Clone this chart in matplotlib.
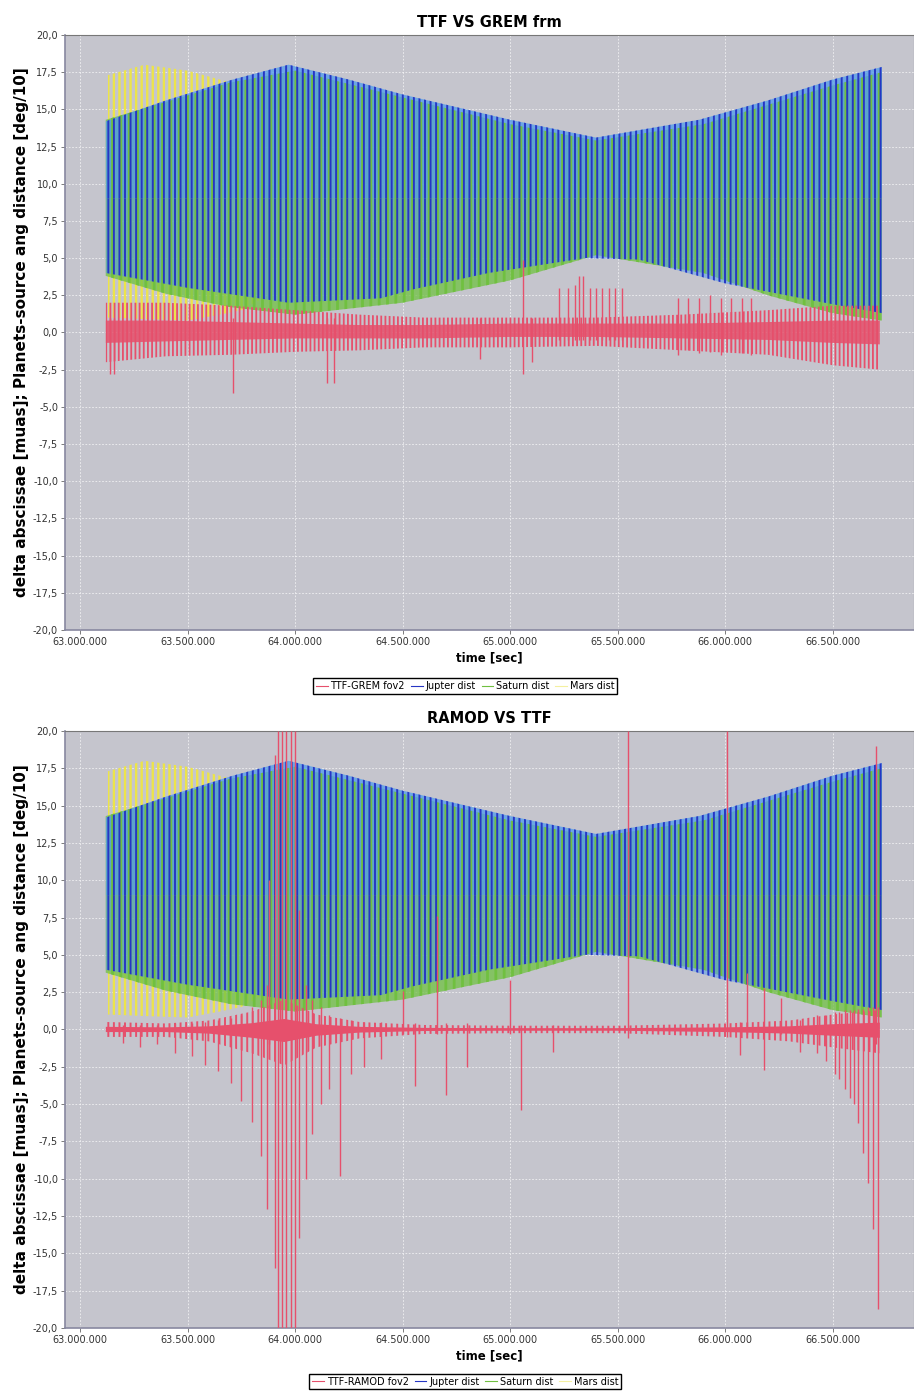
import matplotlib
matplotlib.use('Agg')
import matplotlib.pyplot as plt
from matplotlib.lines import Line2D
from matplotlib.ticker import FuncFormatter, MultipleLocator

# ---- data (times in million seconds) ----
jup_t = [63.12, 63.40, 63.71, 63.97, 64.25, 64.50, 65.00, 65.40, 65.88, 66.20, 66.50, 66.73]
jup_hi = [14.2, 15.6, 17.0, 18.0, 17.0, 16.0, 14.3, 13.1, 14.3, 15.6, 17.0, 17.85]
jup_lo_t = [63.12, 63.50, 63.97, 64.40, 64.55, 64.90, 65.35, 65.60, 66.00, 66.50, 66.73]
jup_lo = [4.0, 3.0, 2.0, 2.3, 2.9, 4.0, 5.0, 4.9, 3.3, 1.9, 1.3]

sat_t = [63.12, 63.40, 63.70, 64.00, 64.50, 65.00, 65.40, 65.90, 66.20, 66.50, 66.73]
sat_hi = [14.3, 15.5, 16.8, 17.6, 15.8, 14.0, 12.9, 14.0, 15.3, 16.6, 17.5]
sat_lo_t = [63.12, 63.50, 63.80, 64.10, 64.40, 64.70, 65.30, 65.80, 66.20, 66.50, 66.73]
sat_lo = [3.8, 2.6, 1.7, 1.2, 2.0, 3.5, 5.2, 4.0, 2.5, 1.3, 0.8]

mars_t = [63.13, 63.30, 63.50, 63.65, 63.75, 64.00, 64.50, 65.00, 65.50, 66.00, 66.50, 66.73]
mars_hi = [17.3, 18.0, 17.6, 17.0, 16.6, 13.0, 9.0, 8.0, 8.0, 9.0, 11.0, 12.0]
mars_lo = [1.0, 0.9, 0.8, 1.2, 1.5, 3.5, 5.0, 6.0, 6.0, 5.5, 4.5, 4.0]

# TTF-GREM fov2 (top panel)
grem_t = [63.12, 63.40, 63.70, 64.00, 64.30, 64.60, 65.00, 65.40, 65.80, 66.20, 66.50, 66.72]
grem_hi = [2.0, 2.0, 1.8, 1.5, 1.2, 1.0, 1.0, 1.0, 1.2, 1.5, 1.8, 1.8]
grem_lo = [-2.0, -1.6, -1.5, -1.3, -1.2, -1.0, -1.0, -0.9, -1.2, -1.5, -2.2, -2.5]
grem_core_hi = [0.8, 0.8, 0.7, 0.6, 0.5, 0.5, 0.6, 0.6, 0.6, 0.7, 0.8, 0.8]
grem_core_lo = [-0.7, -0.6, -0.5, -0.4, -0.4, -0.4, -0.3, -0.3, -0.4, -0.5, -0.7, -0.8]
grem_spk_t = [63.14, 63.16, 63.71, 64.15, 64.18, 64.86, 65.06, 65.10, 65.23, 65.27, 65.30,
              65.32, 65.34, 65.37, 65.40, 65.43, 65.46, 65.49, 65.52, 65.78, 65.83, 65.88,
              65.93, 65.98, 66.03, 66.08, 66.12]
grem_spk_lo = [-2.8, -2.8, -4.1, -3.4, -3.4, -1.8, -2.8, -2.0, -0.5, -0.5, -0.5,
               -0.5, -0.5, -0.5, -0.5, -0.5, -0.5, -0.5, -0.5, -1.5, -1.2, -1.4,
               -1.3, -1.5, -1.2, -1.4, -1.5]
grem_spk_hi = [1.0, 1.0, 1.0, 1.0, 1.0, 1.0, 4.9, 1.0, 3.0, 3.0, 3.2,
               3.8, 3.8, 3.0, 3.0, 3.0, 3.0, 3.0, 3.0, 2.3, 2.3, 2.3,
               2.5, 2.3, 2.3, 2.3, 2.3]

# TTF-RAMOD fov2 (bottom panel)
ramod_t = [63.12, 63.40, 63.60, 63.80, 63.95, 64.10, 64.30, 64.60, 65.00, 65.50, 66.00, 66.30, 66.50, 66.72]
ramod_hi = [0.5, 0.4, 0.6, 1.2, 2.0, 1.0, 0.5, 0.3, 0.25, 0.25, 0.4, 0.6, 1.0, 1.3]
ramod_lo = [-0.5, -0.5, -0.8, -1.6, -2.4, -1.2, -0.6, -0.3, -0.25, -0.25, -0.5, -0.8, -1.2, -1.6]
ramod_spk_t = [63.20, 63.28, 63.36, 63.44, 63.52, 63.58, 63.64, 63.70, 63.75, 63.80, 63.84,
               63.87, 63.88, 63.905, 63.92, 63.94, 63.96, 63.98, 64.00, 64.02, 64.05, 64.08,
               64.12, 64.16, 64.21, 64.26, 64.32, 64.40, 64.50, 64.56, 64.66, 64.70, 64.80,
               65.00, 65.05, 65.20, 65.549, 66.009, 66.07, 66.10, 66.18, 66.26, 66.35, 66.43,
               66.47, 66.51, 66.53, 66.56, 66.58, 66.60, 66.62, 66.64, 66.665, 66.69, 66.70, 66.71]
ramod_spk_lo = [-0.9, -1.2, -1.0, -1.6, -1.8, -2.4, -2.8, -3.6, -4.8, -6.2, -8.5,
                -12.0, -1.0, -16.0, -20.0, -20.0, -20.0, -20.0, -20.0, -14.0, -10.0, -7.0,
                -5.0, -4.0, -9.8, -3.0, -2.5, -2.0, -0.3, -3.8, -0.3, -4.4, -2.5,
                -0.3, -5.4, -1.5, -0.6, -0.5, -1.7, -0.3, -2.7, -0.3, -1.5, -1.6,
                -2.1, -3.0, -3.3, -4.0, -4.6, -5.0, -6.3, -8.3, -10.3, -13.4, -1.0, -18.7]
ramod_spk_hi = [0.3, 0.3, 0.3, 0.4, 0.4, 0.5, 0.6, 0.8, 1.0, 1.5, 2.0,
                3.0, 10.0, 18.4, 20.0, 20.0, 20.0, 20.0, 20.0, 8.0, 3.0, 2.0,
                1.5, 1.0, 0.8, 0.6, 0.5, 0.5, 2.6, 0.4, 7.6, 0.4, 0.4,
                3.3, 0.3, 0.3, 20.0, 20.0, 0.5, 3.8, 2.8, 2.1, 0.6, 1.0,
                1.0, 1.2, 1.2, 1.3, 1.3, 1.3, 1.4, 1.4, 1.5, 1.5, 19.0, 1.5]

x_ticks = [63.0, 63.5, 64.0, 64.5, 65.0, 65.5, 66.0, 66.5]

RED = '#e6506c'
BLUE = '#2636c4'
GREEN = '#70c040'
YELLOW = '#ece44a'
BG = '#c5c5cd'

plt.rcParams['font.family'] = 'DejaVu Sans'


def band(ax, t, lo, hi, color, hatch, lw, z, face='none'):
    ts = [v * 1e6 for v in t]
    with plt.rc_context({'hatch.linewidth': lw}):
        ax.fill_between(ts, lo, hi, facecolor=face, edgecolor=color, hatch=hatch,
                        linewidth=0, zorder=z)


def spikes(ax, t, lo, hi, color, lw=1.0):
    ax.vlines([v * 1e6 for v in t], lo, hi, color=color, linewidth=lw, zorder=6)


def thousands(v, pos):
    return '{:,.0f}'.format(v).replace(',', '.')


def comma(v, pos):
    return '{:.1f}'.format(v).replace('.', ',')


def planets(ax):
    band(ax, mars_t, mars_lo, mars_hi, YELLOW, '|||', 1.7, 2)
    band(ax, sat_t, sat_lo, sat_hi, GREEN, '', 0, 2.5, face=(0.44, 0.76, 0.26, 0.75))
    band(ax, jup_t, [9.0] * len(jup_t), jup_hi, 'none', '', 0, 3, face=(0.31, 0.61, 0.93, 0.75))
    band(ax, jup_lo_t, jup_lo, [9.0] * len(jup_lo_t), 'none', '', 0, 3, face=(0.31, 0.61, 0.93, 0.5))
    band(ax, sat_t, sat_lo, sat_hi, GREEN, '||', 2.0, 3.5)
    band(ax, jup_t, [9.0] * len(jup_t), jup_hi, BLUE, '|||', 1.4, 4)
    band(ax, jup_lo_t, jup_lo, [9.0] * len(jup_lo_t), BLUE, '|||', 1.4, 4)


def style(ax, title):
    ax.set_facecolor(BG)
    ax.set_xlim(62.930e6, 66.879e6)
    ax.set_ylim(-20, 20)
    ax.set_xticks([v * 1e6 for v in x_ticks])
    ax.xaxis.set_major_formatter(FuncFormatter(thousands))
    ax.yaxis.set_major_locator(MultipleLocator(2.5))
    ax.yaxis.set_major_formatter(FuncFormatter(comma))
    ax.grid(True, color='white', linestyle=(0, (2, 2)), linewidth=0.6, alpha=0.75, zorder=1)
    ax.set_axisbelow(True)
    ax.tick_params(labelsize=7, length=3, width=0.6, colors='#666666', labelcolor='#333333', pad=2)
    for s in ['top', 'right']:
        ax.spines[s].set_color('#777777')
        ax.spines[s].set_linewidth(0.8)
    for s in ['left', 'bottom']:
        ax.spines[s].set_color('#8888a0')
        ax.spines[s].set_linewidth(1.2)
    ax.set_title(title, fontsize=10.5, fontweight='bold', pad=6)
    ax.set_xlabel('time [sec]', fontsize=8.5, fontweight='bold', labelpad=3)
    ax.set_ylabel('delta abscissae [muas]; Planets-source ang distance [deg/10]',
                  fontsize=11, fontweight='bold', labelpad=3)


fig = plt.figure(figsize=(9.14, 13.92), dpi=100)
ax1 = fig.add_axes([0.0711, 0.5474, 0.9289, 0.4275])
ax2 = fig.add_axes([0.0711, 0.0460, 0.9289, 0.4289])

# top panel
planets(ax1)
band(ax1, grem_t, grem_lo, grem_hi, RED, '||||', 1.3, 5)
band(ax1, grem_t, grem_core_lo, grem_core_hi, RED, '', 0, 5, face=(0.9, 0.31, 0.42, 0.85))
spikes(ax1, grem_spk_t, grem_spk_lo, grem_spk_hi, RED)
style(ax1, 'TTF VS GREM frm')

# bottom panel
planets(ax2)
band(ax2, ramod_t, ramod_lo, ramod_hi, RED, '|||', 1.4, 5)
band(ax2, ramod_t, [l * 0.35 for l in ramod_lo], [h * 0.35 for h in ramod_hi], RED, '', 0, 5, face=RED)
spikes(ax2, ramod_spk_t, ramod_spk_lo, ramod_spk_hi, RED)
style(ax2, 'RAMOD VS TTF')


def legend(name, y):
    handles = [Line2D([], [], color=RED, lw=0.8), Line2D([], [], color=BLUE, lw=0.8),
               Line2D([], [], color=GREEN, lw=0.8), Line2D([], [], color='#f4f0a0', lw=0.8)]
    labels = [name, 'Jupter dist', 'Saturn dist', 'Mars dist']
    fig.legend(handles, labels, loc='center', bbox_to_anchor=(0.509, y), ncol=4,
               fontsize=7, frameon=True, fancybox=False, edgecolor='black',
               handlelength=1.2, handletextpad=0.3, columnspacing=0.6,
               borderpad=0.3, framealpha=1)


legend('TTF-GREM fov2', 0.5072)
legend('TTF-RAMOD fov2', 0.0075)

fig.savefig('out.png', dpi=100)
